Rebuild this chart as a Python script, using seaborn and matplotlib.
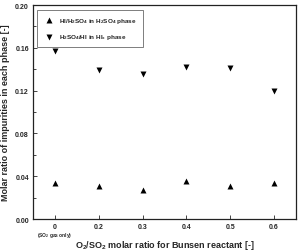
import pandas as pd
import matplotlib.pyplot as plt
import seaborn as sns

# Values
o2_ratio = ['0', '0.2', '0.3', '0.4', '0.5', '0.6']
hi_in_h2so4 = [0.034, 0.031, 0.027, 0.036, 0.031, 0.034]
h2so4_in_hix = [0.157, 0.139, 0.136, 0.142, 0.141, 0.120]

df = pd.DataFrame({'ratio': o2_ratio, 'hi': hi_in_h2so4, 'h2so4': h2so4_in_hix})

sns.set_style('ticks')
plt.rcParams['font.family'] = ['Liberation Sans', 'DejaVu Sans']
plt.rcParams['font.weight'] = 'bold'
plt.rcParams['mathtext.fontset'] = 'custom'
plt.rcParams['mathtext.rm'] = 'Liberation Sans:bold'
plt.rcParams['mathtext.default'] = 'rm'

fig, ax = plt.subplots(figsize=(3.01, 2.53), dpi=100)
fig.subplots_adjust(left=0.110, right=0.983, top=0.976, bottom=0.130)

sns.stripplot(data=df, x='ratio', y='hi', order=o2_ratio, jitter=False, marker='^',
              color='black', size=4.3, ax=ax, label='HI/H$_2$SO$_4$ in H$_2$SO$_4$ phase')
sns.stripplot(data=df, x='ratio', y='h2so4', order=o2_ratio, jitter=False, marker='v',
              color='black', size=4.3, ax=ax, label='H$_2$SO$_4$/HI in HI$_x$ phase')

ax.set_xlim(-0.5, 5.5)
ax.set_ylim(0, 0.20)
ax.set_yticks([0.00, 0.04, 0.08, 0.12, 0.16, 0.20])
ax.set_yticks([0.02, 0.06, 0.10, 0.14, 0.18], minor=True)
ax.set_yticklabels(['0.00', '0.04', '0.08', '0.12', '0.16', '0.20'])
ax.tick_params(direction='in', labelsize=5, length=3, width=0.6, pad=3)
ax.tick_params(axis='x', pad=2.5)
ax.tick_params(which='minor', direction='in', length=2, width=0.6)
for s in ax.spines.values():
    s.set_linewidth(0.9)
    s.set_color('#222222')

ax.set_xlabel('O$_2$/SO$_2$ molar ratio for Bunsen reactant [-]', fontsize=6.5,
              fontweight='bold', labelpad=6)
ax.set_ylabel('Molar ratio of impurities in each phase [-]', fontsize=6.5,
              fontweight='bold', labelpad=4)
ax.text(0, -0.072, '(SO$_2$ gas only)', fontsize=3.5, ha='center', va='center',
        transform=ax.get_xaxis_transform())

handles, labels = ax.get_legend_handles_labels()
leg = ax.legend(handles[:1] + handles[-1:], [labels[0], labels[-1]], loc='upper left',
                fontsize=4.6, frameon=True, fancybox=False, edgecolor='#444444',
                borderpad=0.9, labelspacing=1.1, handletextpad=0.6,
                bbox_to_anchor=(0.003, 0.99))
leg.get_frame().set_linewidth(0.6)

fig.savefig('out.png', dpi=100)
